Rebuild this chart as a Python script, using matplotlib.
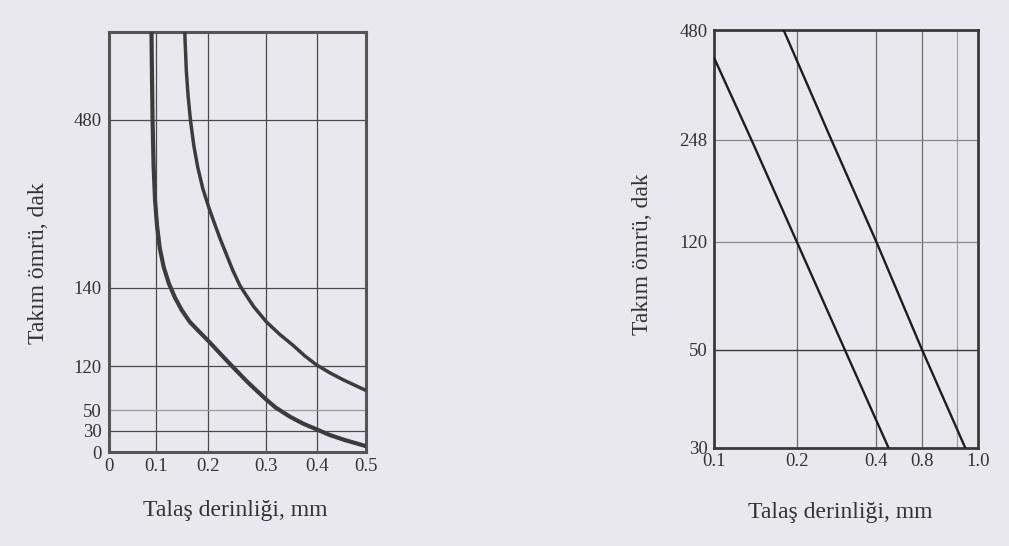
import numpy as np
import matplotlib
matplotlib.use('Agg')
import matplotlib.pyplot as plt
from matplotlib.ticker import FixedLocator, NullFormatter

# Sol grafik: talas derinligi (mm) - takim omru (dak)
sol_x_ticks = [0, 0.1, 0.2, 0.3, 0.4, 0.5]
sol_y_ticks = [0, 30, 50, 120, 140, 480]

egri_alt_x = [0.0895, 0.0905, 0.0918, 0.0939, 0.097, 0.101, 0.1064, 0.1141, 0.1238,
              0.1355, 0.149, 0.1645, 0.182, 0.2, 0.22, 0.2423, 0.2663, 0.2834, 0.3,
              0.3182, 0.3457, 0.3712, 0.3986, 0.4255, 0.4565, 0.4995]
egri_alt_y = [650, 565.7, 478, 387.3, 316.8, 266.4, 220, 181.7, 149.5,
              137.6, 134.3, 131.3, 128.9, 126.5, 123.3, 118.7, 95.8, 80.8, 66.6,
              54, 43.7, 37, 31.2, 23.9, 16.9, 8.5]

egri_ust_x = [0.1548, 0.1578, 0.1612, 0.1659, 0.1723, 0.18, 0.1897, 0.2012, 0.2115,
              0.2217, 0.232, 0.2423, 0.2543, 0.2663, 0.2783, 0.3, 0.3261, 0.3522,
              0.3751, 0.398, 0.4255, 0.453, 0.4772, 0.4995]
egri_ust_y = [650, 575.4, 526.8, 478, 427.6, 383.3, 340.9, 302.6, 268.4,
              236.1, 205.9, 175.7, 145.4, 137.9, 135.2, 131.3, 128.1, 125.3,
              122.6, 120.3, 109.3, 98.2, 89.5, 81.6]

# Sag grafik
sag_x_ticks = [0.1, 0.2, 0.4, 0.8, 1.0]
sag_x_labels = ['0.1', '0.2', '0.4', '0.8', '1.0']
sag_y_ticks = [30, 50, 120, 248, 480]

dogru_1_x = [0.1, 0.145, 0.2, 0.321, 0.506]
dogru_1_y = [420, 248, 120, 50, 30]

dogru_2_x = [0.184, 0.287, 0.4, 0.8, 0.955]
dogru_2_y = [480, 248, 120, 50, 30]


def parcali(degerler, konumlar):
    # eksen uzerinde esit araliksiz olcek (kitaptaki gibi)
    def ileri(v):
        return np.interp(v, degerler, konumlar)

    def geri(p):
        return np.interp(p, konumlar, degerler)
    return ileri, geri


if __name__ == '__main__':
    plt.rcParams['font.family'] = ['Liberation Serif', 'DejaVu Serif']
    kagit = '#eae8ef'
    koyu = '#3c3c3c'

    fig = plt.figure(figsize=(10.09, 5.46), dpi=100)
    fig.patch.set_facecolor(kagit)

    # ---- sol ----
    ax1 = fig.add_axes([0.108, 0.172, 0.2545, 0.769])
    ax1.set_facecolor(kagit)
    ax1.set_xscale('function', functions=parcali(sol_x_ticks, [0, 0.185, 0.386, 0.613, 0.812, 1.0]))
    ax1.set_yscale('function', functions=parcali(sol_y_ticks + [650],
                                                 [0, 0.051, 0.100, 0.205, 0.391, 0.792, 1.0]))
    ax1.set_xlim(0, 0.5)
    ax1.set_ylim(0, 650)
    ax1.xaxis.set_major_locator(FixedLocator(sol_x_ticks))
    ax1.yaxis.set_major_locator(FixedLocator(sol_y_ticks))
    ax1.set_xticklabels([str(t) for t in sol_x_ticks])
    ax1.set_yticklabels([str(t) for t in sol_y_ticks])
    ax1.xaxis.set_minor_formatter(NullFormatter())
    ax1.yaxis.set_minor_formatter(NullFormatter())

    for gx in sol_x_ticks[1:-1]:
        ax1.axvline(gx, color='#4a4a4a', lw=0.9, zorder=1)
    for gy in sol_y_ticks[1:]:
        renk = '#9a9a9e' if gy == 50 else '#4a4a4a'
        ax1.axhline(gy, color=renk, lw=0.9, zorder=1)

    ax1.plot(egri_alt_x, egri_alt_y, color=koyu, lw=3.0, solid_joinstyle='round',
             solid_capstyle='round', zorder=3)
    ax1.plot(egri_ust_x, egri_ust_y, color=koyu, lw=2.5, solid_joinstyle='round',
             solid_capstyle='round', zorder=3)

    for s in ax1.spines.values():
        s.set_color('#555555')
        s.set_linewidth(2.2)
    ax1.tick_params(length=0, labelsize=13.5, colors='#333333')
    ax1.tick_params(axis='y', pad=5)
    ax1.tick_params(axis='x', pad=4)

    ax1.set_ylabel('Takım ömrü, dak', fontsize=17, color='#333333')
    ax1.yaxis.set_label_coords(-0.235, 0.45)
    ax1.set_xlabel('Talaş derinliği, mm', fontsize=17, color='#333333')
    ax1.xaxis.set_label_coords(0.49, -0.115)

    # ---- sag ----
    ax2 = fig.add_axes([0.708, 0.18, 0.261, 0.765])
    ax2.set_facecolor(kagit)
    ax2.set_xscale('function', functions=parcali(sag_x_ticks, [0, 0.313, 0.615, 0.789, 1.0]))
    ax2.set_yscale('function', functions=parcali(sag_y_ticks, [0, 0.234, 0.493, 0.737, 1.0]))
    ax2.set_xlim(0.1, 1.0)
    ax2.set_ylim(30, 480)
    ax2.xaxis.set_major_locator(FixedLocator(sag_x_ticks))
    ax2.yaxis.set_major_locator(FixedLocator(sag_y_ticks))
    ax2.set_xticklabels(sag_x_labels)
    ax2.set_yticklabels([str(t) for t in sag_y_ticks])
    ax2.xaxis.set_minor_formatter(NullFormatter())
    ax2.yaxis.set_minor_formatter(NullFormatter())

    for gx in [0.2, 0.4, 0.8]:
        ax2.axvline(gx, color='#6a6a6a', lw=0.9, zorder=1)
    ax2.axvline(0.925, color='#9a9a9e', lw=0.8, zorder=1)
    for gy in [120, 248]:
        ax2.axhline(gy, color='#8a8a8e', lw=0.9, zorder=1)
    ax2.axhline(50, color='#3a3a3a', lw=1.0, zorder=1)

    ax2.plot(dogru_1_x, dogru_1_y, color='#1e1e1e', lw=1.7, zorder=3)
    ax2.plot(dogru_2_x, dogru_2_y, color='#1e1e1e', lw=1.7, zorder=3)

    for s in ax2.spines.values():
        s.set_color('#3a3a3a')
        s.set_linewidth(2.0)
    ax2.tick_params(length=0, labelsize=13.5, colors='#333333')
    ax2.tick_params(axis='y', pad=5)
    ax2.tick_params(axis='x', pad=4)

    ax2.set_ylabel('Takım ömrü, dak', fontsize=17, color='#333333')
    ax2.yaxis.set_label_coords(-0.233, 0.464)
    ax2.set_xlabel('Talaş derinliği, mm', fontsize=17, color='#333333')
    ax2.xaxis.set_label_coords(0.478, -0.13)

    plt.savefig('out.png', dpi=100, facecolor=kagit)
